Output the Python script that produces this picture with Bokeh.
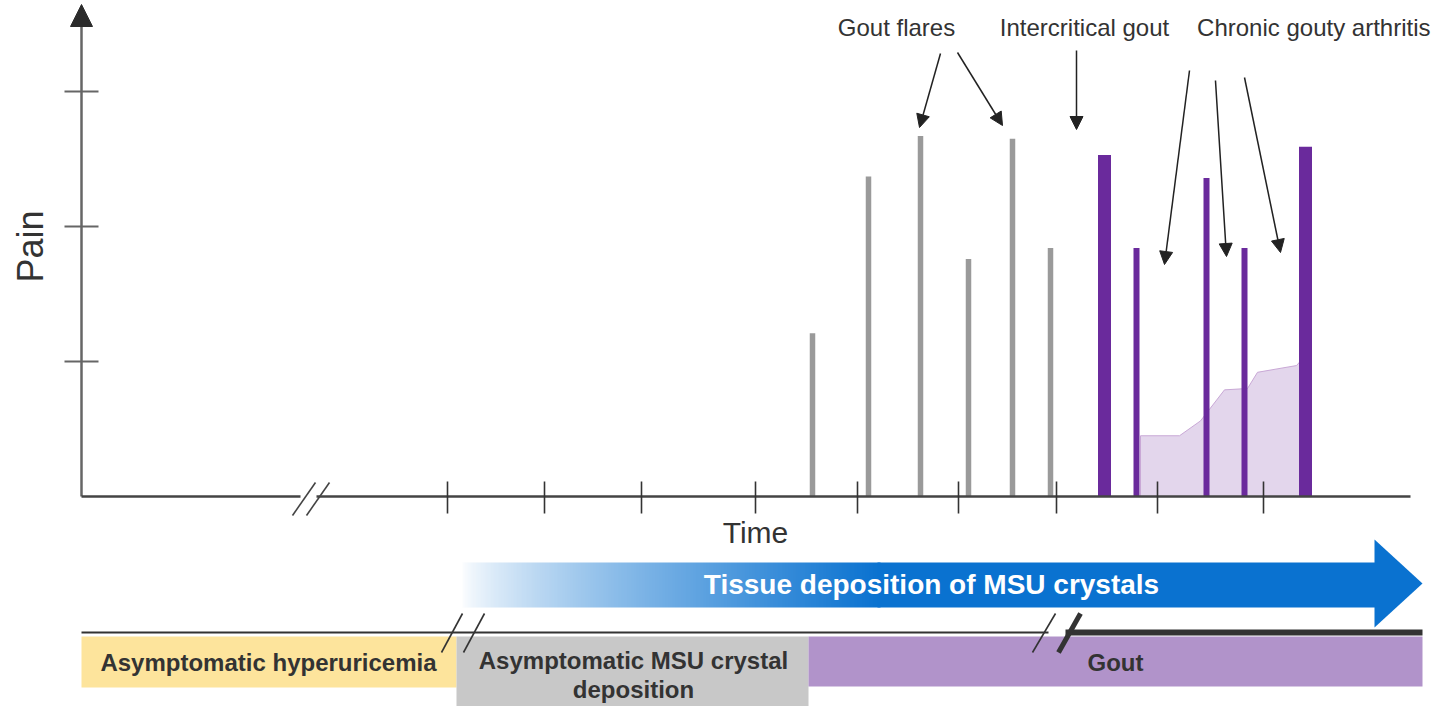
import numpy as np
from bokeh.plotting import figure
from bokeh.models import Range1d, Arrow, NormalHead, ColumnDataSource
from bokeh.core.properties import value
from bokeh.embed import file_html
from bokeh.resources import INLINE

# ---------------- data ----------------
flare_time = [7.31, 7.87, 8.39, 8.87, 9.31, 9.69]
flare_pain = [1.21, 2.37, 2.67, 1.76, 2.65, 1.84]

chronic_time = [10.23, 10.55, 11.25, 11.63, 12.24]
chronic_pain = [2.53, 1.84, 2.36, 1.84, 2.59]
chronic_thick = [True, False, False, False, True]

baseline_time = [10.59, 10.98, 11.19, 11.43, 11.66, 11.76, 12.15, 12.27]
baseline_pain = [0.45, 0.45, 0.56, 0.79, 0.80, 0.92, 0.97, 1.07]

time_ticks = [3.66, 4.63, 5.60, 6.74, 7.76, 8.77, 9.75, 10.76, 11.82]
pain_ticks = [1, 2, 3]

phase_names = ["Asymptomatic hyperuricemia", "Asymptomatic MSU crystal", "deposition", "Gout"]
phase_start = [0.0, 3.75, 7.27]
phase_end = [3.75, 7.27, 13.41]
phase_colors = ["#fde49c", "#c8c8c8", "#b193ca"]

deposition_start = 3.79
deposition_end = 13.41

labels = ["Gout flares", "Intercritical gout", "Chronic gouty arthritis"]

# ---------------- layout helpers (pixel -> data units) ----------------
X0, Y0, XS, YS = 81.0, 496.0, 100.0, 135.0
def tx(px):
    return (px - X0) / XS
def py(pyx):
    return (Y0 - pyx) / YS

FONT = "Liberation Sans"
DARK = "#333333"
BLUE = "#0a72d0"

p = figure(width=1432, height=706, output_backend="svg", toolbar_location=None,
           x_range=Range1d(tx(0), tx(1432)), y_range=Range1d(py(706), py(0)),
           min_border=0)
p.axis.visible = False
p.grid.visible = False
p.outline_line_color = None
p.background_fill_color = "white"

# chronic baseline pain area
bx = baseline_time + [baseline_time[-1], baseline_time[0]]
by = baseline_pain + [0, 0]
p.patch(bx, by, fill_color="#e3d6ec", line_color="#c9a8d6", line_width=1)

# gout flare bars (grey)
p.vbar(x=flare_time, top=flare_pain, bottom=0, width=0.055, fill_color="#9a9a9a", line_color=None)

# chronic flares (purple)
cw = [0.13 if t else 0.06 for t in chronic_thick]
p.vbar(x=chronic_time, top=chronic_pain, bottom=0, width=cw, fill_color="#6a2a9c", line_color=None)

# axes
p.line([0, 0], [0, py(25)], line_color="#666666", line_width=2.5)
p.patch([tx(70), tx(92), tx(81)], [py(26), py(26), py(4)], fill_color="#2b2b2b", line_color="#2b2b2b")
p.line([0, tx(1410)], [0, 0], line_color="#444444", line_width=2.5)
p.segment(x0=[tx(64)] * 3, x1=[tx(98)] * 3, y0=pain_ticks, y1=pain_ticks, line_color="#666666", line_width=2)
p.segment(x0=time_ticks, x1=time_ticks, y0=[py(481)] * len(time_ticks), y1=[py(513)] * len(time_ticks),
          line_color="#333333", line_width=1.6)
# axis break
p.quad(left=[tx(300)], right=[tx(316)], top=[py(493)], bottom=[py(499)], fill_color="white", line_color=None)
p.segment(x0=[tx(292), tx(306)], y0=[py(515), py(515)], x1=[tx(315), tx(329)], y1=[py(482), py(482)],
          line_color="#444444", line_width=1.6)

p.text(x=[tx(755)], y=[py(532)], text=["Time"], text_font=value(FONT), text_font_size="30px",
       text_color=DARK, text_align="center", text_baseline="middle")
p.text(x=[tx(30)], y=[py(246)], text=["Pain"], text_font=value(FONT), text_font_size="36px",
       text_color=DARK, text_align="center", text_baseline="middle", angle=np.pi / 2)

# annotations
p.text(x=[tx(896), tx(1084)], y=[py(27)] * 2, text=labels[:2], text_font=value(FONT),
       text_font_size="24px", text_color=DARK, text_align="center", text_baseline="middle")
p.text(x=[tx(1430)], y=[py(27)], text=labels[2:], text_font=value(FONT),
       text_font_size="24px", text_color=DARK, text_align="right", text_baseline="middle")
arrows = ColumnDataSource(dict(
    xs=[tx(940), tx(957), tx(1076), tx(1189), tx(1215), tx(1244)],
    ys=[py(53), py(52), py(50), py(70), py(80), py(77)],
    xe=[tx(919), tx(1002), tx(1076), tx(1164), tx(1226), tx(1280)],
    ye=[py(127), py(125), py(129), py(264), py(256), py(252)],
))
p.add_layout(Arrow(end=NormalHead(size=13, fill_color="#222222", line_color="#222222"),
                   x_start="xs", y_start="ys", x_end="xe", y_end="ye", source=arrows,
                   line_color="#222222", line_width=1.5))

# deposition arrow with gradient (image strip)
blue = np.array([10, 114, 208])
grad_end = tx(880)
n = 256
img = np.empty((1, n), dtype=np.uint32)
view = img.view(dtype=np.uint8).reshape((1, n, 4))
for i in range(n):
    f = (i / (n - 1)) ** 0.75
    c = np.round(255 * (1 - f) + blue * f).astype(np.uint8)
    view[0, i, 0:3] = c
    view[0, i, 3] = 255
head_x = tx(1374)
p.image_rgba(image=[img], x=deposition_start, y=py(607), dw=grad_end - deposition_start,
             dh=py(562) - py(607))
p.quad(left=[grad_end - 0.03], right=[head_x + 0.01], top=[py(562)], bottom=[py(607)],
       fill_color=BLUE, line_color=None)
p.patch([head_x, head_x, deposition_end, head_x], [py(539), py(627), py(583), py(539)],
        fill_color=BLUE, line_color=None)
p.text(x=[tx(931)], y=[py(584)], text=["Tissue deposition of MSU crystals"], text_font=value(FONT),
       text_font_size="28px", text_font_style="bold", text_color="white",
       text_align="center", text_baseline="middle")

# phase boxes
box_bottom = [py(687), py(722), py(686)]
p.quad(left=phase_start, right=phase_end, top=[py(636)] * 3, bottom=box_bottom,
       fill_color=phase_colors, line_color=None)
p.text(x=[tx(268), tx(633), tx(633), tx(1115)], y=[py(662), py(660), py(689), py(662)],
       text=phase_names, text_font=value(FONT), text_font_size="24px",
       text_font_style="bold", text_color=DARK, text_align="center", text_baseline="middle")

# timeline line
p.line([0, tx(1048)], [py(632), py(632)], line_color="#333333", line_width=2)
p.line([tx(1065), phase_end[2]], [py(632), py(632)], line_color="#333333", line_width=6)
# breaks on timeline
p.segment(x0=[tx(441), tx(463), tx(1032)], y0=[py(652)] * 3, x1=[tx(462), tx(484), tx(1055)],
          y1=[py(613)] * 3, line_color="#333333", line_width=1.6)
p.segment(x0=[tx(1058)], y0=[py(652)], x1=[tx(1080)], y1=[py(613)], line_color="#333333", line_width=5)

open("out.html", "w").write(file_html(p, INLINE))
